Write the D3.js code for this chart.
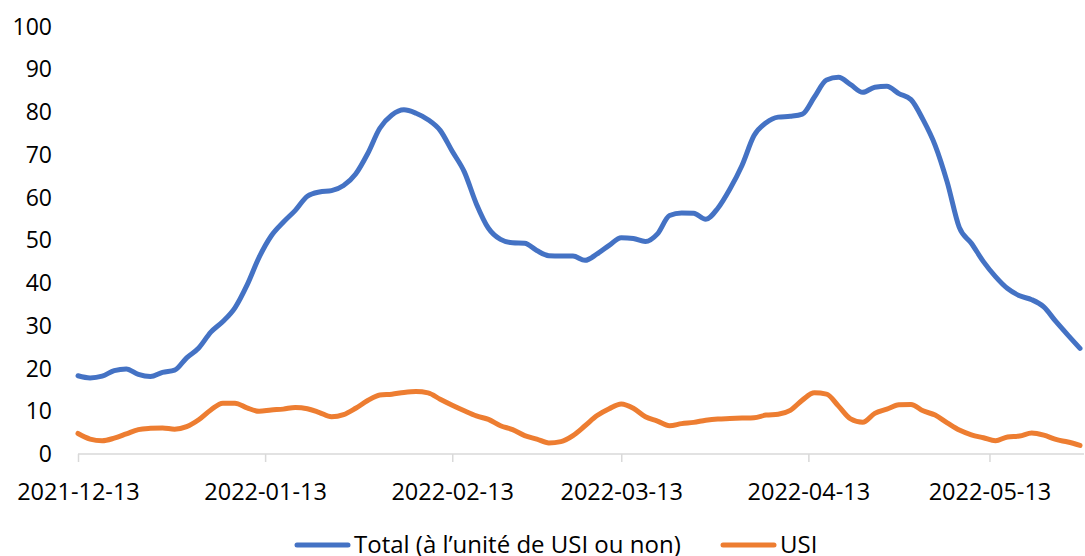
<!DOCTYPE html>
<html>
<head>
<meta charset="utf-8">
<title>Total et USI</title>
<script src="https://cdn.jsdelivr.net/npm/d3@7"></script>
<style>
    body { margin: 0; background: #fff; }
    text { font-family: "Open Sans", sans-serif; fill: #000; }
    .line { fill: none; stroke-width: 5px; stroke-linejoin: round; stroke-linecap: round; }
</style>
</head>
<body>
<div id="chart"></div>
<script>

// dates (every 2 days)
var dates = ["2021-12-13","2021-12-15","2021-12-17","2021-12-19","2021-12-21","2021-12-23","2021-12-25","2021-12-27","2021-12-29","2021-12-31",
    "2022-01-02","2022-01-04","2022-01-06","2022-01-08","2022-01-10","2022-01-12","2022-01-14","2022-01-16","2022-01-18","2022-01-20",
    "2022-01-22","2022-01-24","2022-01-26","2022-01-28","2022-01-30","2022-02-01","2022-02-03","2022-02-05","2022-02-07","2022-02-09",
    "2022-02-11","2022-02-13","2022-02-15","2022-02-17","2022-02-19","2022-02-21","2022-02-23","2022-02-25","2022-02-27","2022-03-01",
    "2022-03-03","2022-03-05","2022-03-07","2022-03-09","2022-03-11","2022-03-13","2022-03-15","2022-03-17","2022-03-19","2022-03-21",
    "2022-03-23","2022-03-25","2022-03-27","2022-03-29","2022-03-31","2022-04-02","2022-04-04","2022-04-06","2022-04-08","2022-04-10",
    "2022-04-12","2022-04-14","2022-04-16","2022-04-18","2022-04-20","2022-04-22","2022-04-24","2022-04-26","2022-04-28","2022-04-30",
    "2022-05-02","2022-05-04","2022-05-06","2022-05-08","2022-05-10","2022-05-12","2022-05-14","2022-05-16","2022-05-18","2022-05-20",
    "2022-05-22","2022-05-24","2022-05-26","2022-05-28"];

// Total (à l'unité de USI ou non)
var total = [18.3,17.8,18.2,19.5,19.9,18.6,18.1,19.1,19.6,22.5,
    24.8,28.5,31.0,34.2,39.5,46.0,51.0,54.2,57.0,60.3,
    61.3,61.6,62.8,65.5,70.3,76.2,79.3,80.5,79.7,78.2,
    75.7,70.8,66.0,58.5,52.8,50.2,49.4,49.3,47.6,46.4,
    46.3,46.3,45.3,46.8,48.8,50.6,50.4,49.7,51.5,55.8,
    56.4,56.3,54.9,57.5,62.0,67.5,74.5,77.5,78.8,79.0,
    79.5,83.5,87.5,88.1,86.4,84.6,85.8,86.0,84.3,82.9,
    78.2,72.2,63.6,53.0,49.3,45.0,41.5,38.7,37.0,36.1,
    34.4,31.0,27.8,24.7];

// USI
var usi = [4.8,3.5,3.1,3.7,4.7,5.7,6.0,6.1,5.8,6.4,
    8.0,10.3,11.9,11.9,10.8,10.0,10.3,10.5,10.9,10.6,
    9.7,8.7,9.2,10.7,12.5,13.8,14.0,14.4,14.6,14.3,
    12.8,11.4,10.1,8.9,8.1,6.6,5.7,4.3,3.5,2.6,
    2.9,4.3,6.6,9.0,10.6,11.7,10.7,8.7,7.7,6.6,
    7.1,7.4,7.9,8.2,8.3,8.4,8.5,9.1,9.3,10.2,
    12.6,14.3,14.0,11.2,8.2,7.4,9.5,10.5,11.5,11.6,
    10.1,9.1,7.3,5.6,4.5,3.8,3.1,4.0,4.2,4.9,
    4.4,3.4,2.8,2.0];

var tickDates = ["2021-12-13","2022-01-13","2022-02-13","2022-03-13","2022-04-13","2022-05-13"];
var yTicks = [0,10,20,30,40,50,60,70,80,90,100];
var seriesNames = ["Total (\u00e0 l\u2019unit\u00e9 de USI ou non)", "USI"];
var colors = ["#4472C4", "#ED7D31"];

var width = 1085,
    height = 556;

var parse = d3.timeParse("%Y-%m-%d");

var svg = d3.select("#chart").append("svg")
    .attr("width", width)
    .attr("height", height);

var x = d3.scaleTime()
    .domain([parse(dates[0]), parse(dates[dates.length - 1])])
    .range([78, 1080]);

var y = d3.scaleLinear()
    .domain([0, 100])
    .range([454, 26.5]);

// y labels (no axis line, no grid)
svg.selectAll(".ylab")
    .data(yTicks).enter()
    .append("text")
    .attr("class", "ylab")
    .attr("x", 52)
    .attr("y", function (d) { return y(d); })
    .attr("dy", "0.35em")
    .attr("text-anchor", "end")
    .style("font-size", "23px")
    .text(function (d) { return d; });

// x axis
var xAxis = d3.axisBottom(x)
    .tickValues(tickDates.map(parse))
    .tickFormat(d3.timeFormat("%Y-%m-%d"))
    .tickSize(8)
    .tickSizeOuter(0)
    .tickPadding(21);

var gx = svg.append("g")
    .attr("transform", "translate(0,454)")
    .call(xAxis);
gx.select(".domain").remove();
gx.selectAll(".tick line").attr("stroke", "#d9d9d9").attr("stroke-width", 1.5);
gx.selectAll(".tick text")
    .style("font-size", "23.5px")
    .style("font-family", "'Open Sans', sans-serif")
    .attr("fill", "#000");
gx.append("line")
    .attr("x1", 78).attr("x2", 1084)
    .attr("y1", 0).attr("y2", 0)
    .attr("stroke", "#d9d9d9")
    .attr("stroke-width", 1.5);

// lines
var line = d3.line()
    .x(function (d) { return x(parse(d[0])); })
    .y(function (d) { return y(d[1]); })
    .curve(d3.curveMonotoneX);

[total, usi].forEach(function (vals, i) {
    svg.append("path")
      .datum(dates.map(function (dt, j) { return [dt, vals[j]]; }))
      .attr("class", "line")
      .attr("stroke", colors[i])
      .attr("d", line);
});

// legend
var legendX = [297, 723];
var leg = svg.selectAll(".legend")
    .data(seriesNames).enter()
    .append("g")
    .attr("class", "legend")
    .attr("transform", function (d, i) { return "translate(" + legendX[i] + ",545)"; });

leg.append("line")
    .attr("x1", 0).attr("x2", 51)
    .attr("y1", 0).attr("y2", 0)
    .attr("stroke", function (d, i) { return colors[i]; })
    .attr("stroke-width", 5)
    .attr("stroke-linecap", "round");

leg.append("text")
    .attr("x", 57)
    .attr("y", 0)
    .attr("dy", "0.35em")
    .style("font-size", "24px")
    .text(function (d) { return d; });

</script>
</body>
</html>
